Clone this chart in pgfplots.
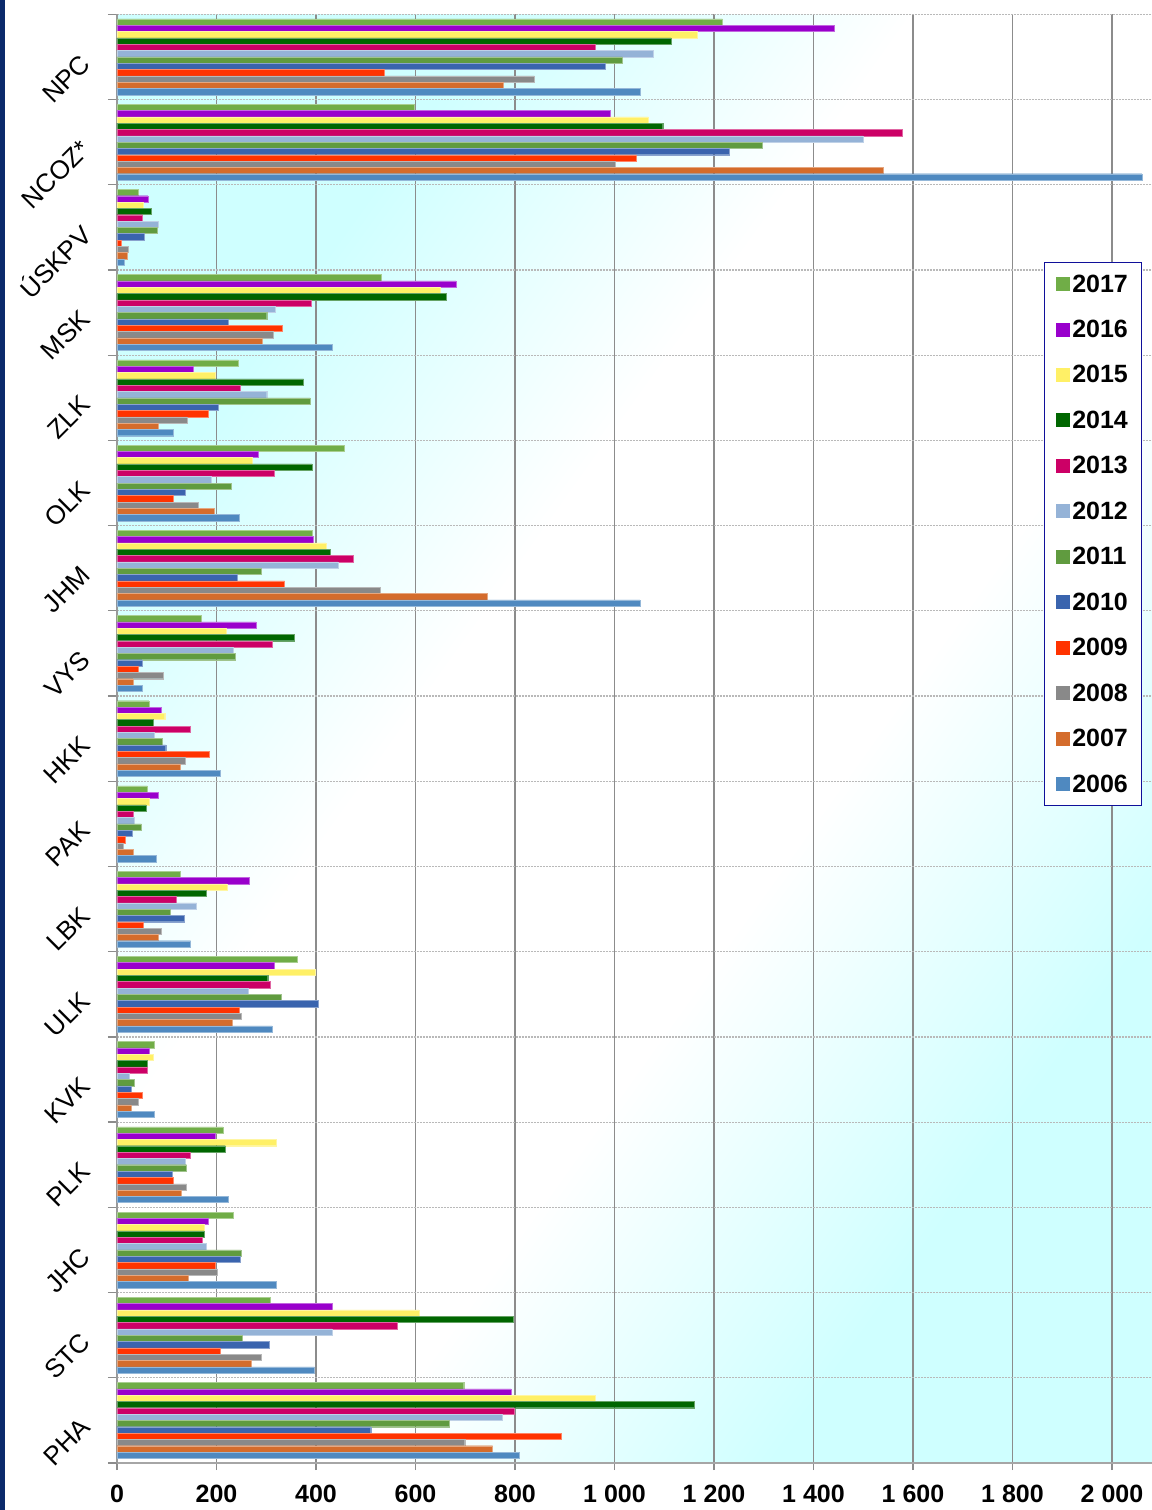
\documentclass[border=0pt]{standalone}
\usepackage{fontspec}
\setmainfont{Liberation Sans}
\usepackage{pgfplots}
\usepackage{pgfplotstable}
\pgfplotsset{compat=1.18}

\definecolor{c2017}{HTML}{70AD47}
\definecolor{c2016}{HTML}{9900CC}
\definecolor{c2015}{HTML}{FFF066}
\definecolor{c2014}{HTML}{006600}
\definecolor{c2013}{HTML}{CC0066}
\definecolor{c2012}{HTML}{95B3D7}
\definecolor{c2011}{HTML}{609B3F}
\definecolor{c2010}{HTML}{3A64AE}
\definecolor{c2009}{HTML}{FF3300}
\definecolor{c2008}{HTML}{898989}
\definecolor{c2007}{HTML}{D46C2C}
\definecolor{c2006}{HTML}{4F89C0}
\definecolor{bgc}{HTML}{CFFFFF}
\definecolor{gridgray}{HTML}{8C8C8C}
\definecolor{legblue}{HTML}{10109A}
\definecolor{strip}{HTML}{0B2A6B}

\pgfdeclarehorizontalshading{bgshade}{100bp}{color(0bp)=(bgc); color(28bp)=(bgc); color(42bp)=(white); color(58bp)=(white); color(72bp)=(bgc); color(100bp)=(bgc)}

% idx 0 = PHA (bottom) ... 16 = NPC (top)
\pgfplotstableread{
idx y2017 y2016 y2015 y2014 y2013 y2012 y2011 y2010 y2009 y2008 y2007 y2006
0   697   792   962   1161  799   774   668   510   892   699   755   808
1   308   432   607   796   564   432   252   306   207   289   269   397
2   233   183   175   175   172   180   249   248   198   202   144   320
3   213   197   321   218   147   137   140   111   114   140   129   224
4   75    64    72    60    60    25    35    28    51    42    28    74
5   362   317   399   303   308   263   330   404   246   250   232   312
6   127   266   221   180   120   160   107   136   52    89    83    148
7   61    82    65    58    32    35    49    30    16    12    32    78
8   64    89    96    73    147   74    91    98    185   138   127   207
9   169   279   220   356   312   234   237   50    43    93    32    50
10  392   394   420   428   474   444   289   241   337   529   744   1051
11  456   284   271   392   316   190   230   138   113   163   195   245
12  244   154   198   375   247   301   388   203   183   141   82    113
13  532   681   649   661   390   318   301   224   333   315   292   433
14  43    62    53    69    51    82    81    55    8     23    20    15
15  598   991   1068  1097  1578  1500  1296  1231  1044  1001  1541  2060
16  1217  1441  1167  1114  961   1078  1016  982   537   839   776   1052
}\data

\begin{document}
\begin{tikzpicture}
\useasboundingbox (-117pt,-47pt) rectangle (1035pt,1463.3pt);
\fill[strip] (-117pt,-47pt) rectangle (-111.5pt,1463.3pt);
\begin{axis}[
    scale only axis,
    width=1035pt, height=1449pt,
    xmin=0, xmax=2080,
    ymin=-0.5, ymax=16.5,
    xbar, bar width=0.074,
    axis background/.style={shading=bgshade, shading angle=-35.5},
    axis x line*=bottom, axis y line*=left,
    x axis line style={-, draw=gray!70, line width=2.5pt},
    y axis line style={-, draw=gray!80, line width=1.3pt},
    xtick={0,200,...,2000},
    scaled x ticks=false,
    /pgf/number format/assume math mode=true,
    /pgf/number format/1000 sep={\ },
    xticklabel style={font=\bfseries\fontsize{25}{30}\selectfont, yshift=-12pt},
    ytick={0,...,16},
    yticklabels={PHA,STC,JHC,PLK,KVK,ULK,LBK,PAK,HKK,VYS,JHM,OLK,ZLK,MSK,ÚSKPV,NCOZ*,NPC},
    yticklabel style={font=\fontsize{26}{30}\selectfont, xshift=-22pt, rotate=45, anchor=east},
    minor ytick={-0.5,0.5,...,16.5},
    xmajorgrids, yminorgrids,
    major grid style={draw=gridgray, line width=1.3pt},
    minor grid style={draw=gray!55, dash pattern=on 2pt off 1pt, line width=1.2pt},
    tick align=outside,
    major tick length=7pt, minor tick length=9pt,
    tick style={draw=gridgray, line width=1.3pt},
    major y tick style={draw=none},
    legend cell align=left,
    legend style={at={(0.991,0.829)}, anchor=north east, draw=legblue, line width=1.2pt,
        fill=white, font=\bfseries\fontsize{25}{30}\selectfont, row sep=22.5pt,
        inner xsep=12pt, inner ysep=10pt},
    legend image code/.code={\fill[#1, draw=none] (0pt,-7pt) rectangle (14pt,7pt);},
]
\addplot[fill=c2017, draw=c2017!60!white, bar shift=0pt] table[x=y2017, y expr=\thisrow{idx}+0.408] {\data};
\addplot[fill=c2016, draw=c2016!60!white, bar shift=0pt] table[x=y2016, y expr=\thisrow{idx}+0.334] {\data};
\addplot[fill=c2015, draw=c2015!60!white, bar shift=0pt] table[x=y2015, y expr=\thisrow{idx}+0.260] {\data};
\addplot[fill=c2014, draw=c2014!60!white, bar shift=0pt] table[x=y2014, y expr=\thisrow{idx}+0.186] {\data};
\addplot[fill=c2013, draw=c2013!60!white, bar shift=0pt] table[x=y2013, y expr=\thisrow{idx}+0.111] {\data};
\addplot[fill=c2012, draw=c2012!60!white, bar shift=0pt] table[x=y2012, y expr=\thisrow{idx}+0.037] {\data};
\addplot[fill=c2011, draw=c2011!60!white, bar shift=0pt] table[x=y2011, y expr=\thisrow{idx}-0.037] {\data};
\addplot[fill=c2010, draw=c2010!60!white, bar shift=0pt] table[x=y2010, y expr=\thisrow{idx}-0.111] {\data};
\addplot[fill=c2009, draw=c2009!60!white, bar shift=0pt] table[x=y2009, y expr=\thisrow{idx}-0.186] {\data};
\addplot[fill=c2008, draw=c2008!60!white, bar shift=0pt] table[x=y2008, y expr=\thisrow{idx}-0.260] {\data};
\addplot[fill=c2007, draw=c2007!60!white, bar shift=0pt] table[x=y2007, y expr=\thisrow{idx}-0.334] {\data};
\addplot[fill=c2006, draw=c2006!60!white, bar shift=0pt] table[x=y2006, y expr=\thisrow{idx}-0.408] {\data};
\legend{2017,2016,2015,2014,2013,2012,2011,2010,2009,2008,2007,2006}
\end{axis}
\end{tikzpicture}
\end{document}
